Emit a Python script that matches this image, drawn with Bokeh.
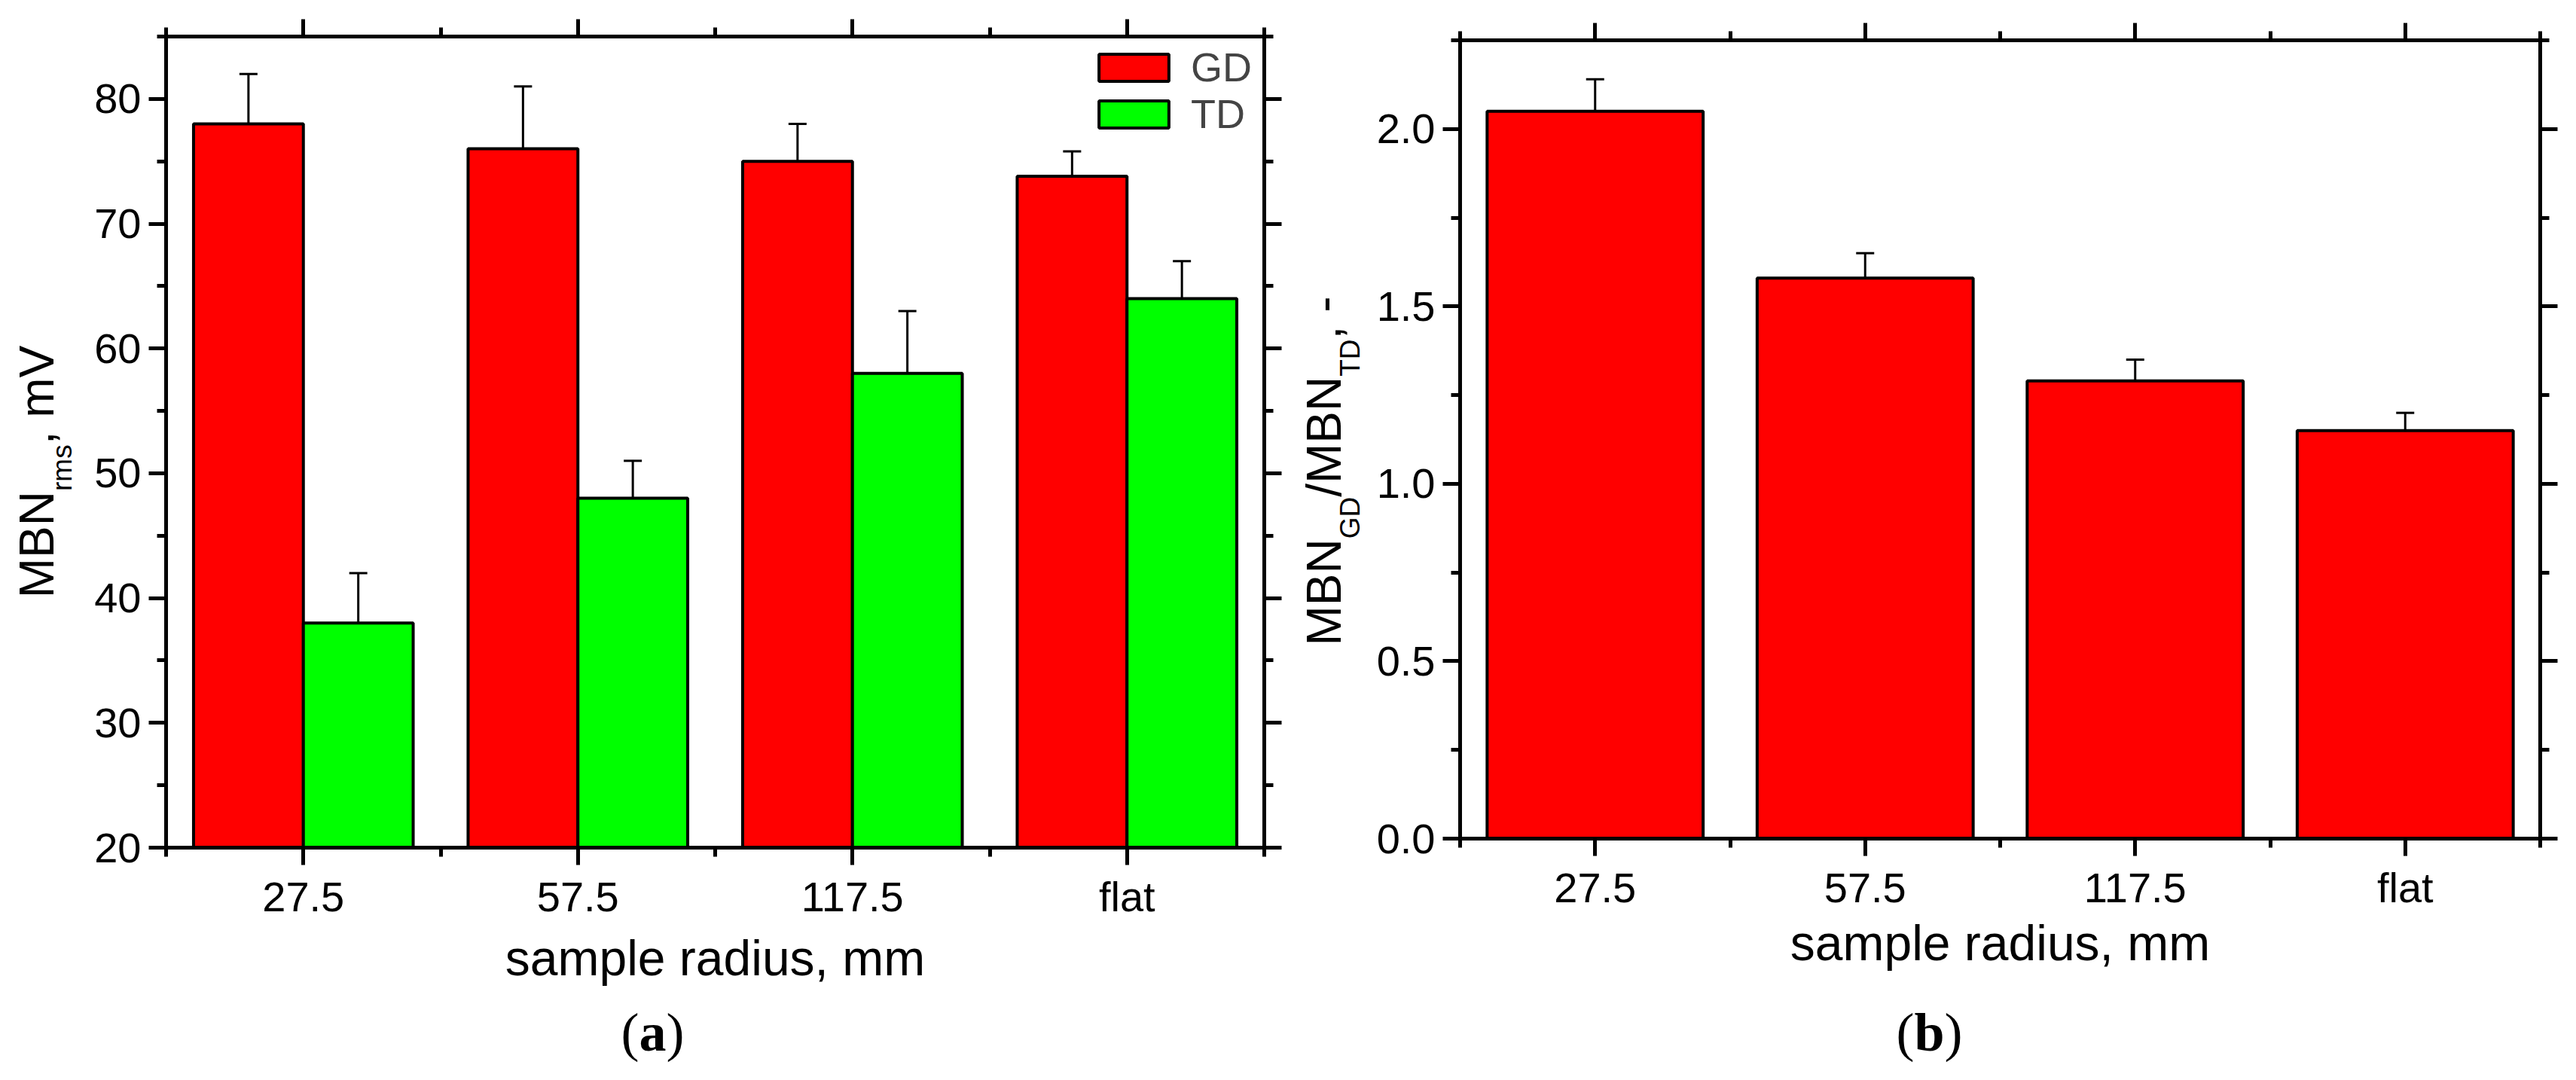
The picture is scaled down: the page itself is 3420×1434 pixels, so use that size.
import math
from bokeh.plotting import figure
from bokeh.models import (Range1d, LinearAxis, FixedTicker, Label, Whisker, TeeHead,
                          ColumnDataSource, NumeralTickFormatter, BasicTickFormatter)
from bokeh.layouts import row
from bokeh.embed import file_html
from bokeh.resources import INLINE

# ---------------- data ----------------
categories = ["27.5", "57.5", "117.5", "flat"]
gd_values = [78.0, 76.0, 75.0, 73.8]
gd_err = [4.0, 5.0, 3.0, 2.0]
td_values = [38.0, 48.0, 58.0, 64.0]
td_err = [4.0, 3.0, 5.0, 3.0]
ratio_values = [2.05, 1.58, 1.29, 1.15]
ratio_err = [0.09, 0.07, 0.06, 0.05]
series_names = ["GD", "TD"]
yticks_a = [20, 30, 40, 50, 60, 70, 80]
yminor_a = [25, 35, 45, 55, 65, 75, 85]
yticks_b = [0.0, 0.5, 1.0, 1.5, 2.0]
yminor_b = [0.25, 0.75, 1.25, 1.75, 2.25]

# ---------------- style ----------------
FONT = "Liberation Sans"
SERIF = "Liberation Serif"
RED = "#FF0000"
GREEN = "#00FF00"
H = 1434
BASE_SHIFT = 0.38   # empirical correction of the label baseline (em)

xpos = list(range(1, len(categories) + 1))
xminor = [p - 0.5 for p in xpos] + [xpos[-1] + 0.5]
overrides = {p: c for p, c in zip(xpos, categories)}

# approximate Arial advance widths (em) for placing rotated label pieces
ADV = {"M": .833, "B": .667, "N": .722, "r": .333, "m": .833, "s": .5, ",": .278,
       " ": .278, "V": .667, "G": .778, "D": .722, "T": .611, "/": .278, "-": .333}


def tw(text, size):
    return sum(ADV.get(c, 0.55) for c in text) * size


class Panel:
    """Figure whose frame fills the whole canvas; axes are pinned with fixed_location."""

    def __init__(self, width, box, xr, yr):
        left, right, top, bottom = box
        self.kx = (right - left) / (xr[1] - xr[0])
        self.ky = (bottom - top) / (yr[1] - yr[0])
        self.x0 = xr[0] - left / self.kx
        x1 = xr[1] + (width - right) / self.kx
        self.ytop = yr[1] + top / self.ky
        y0 = yr[0] - (H - bottom) / self.ky
        self.xr, self.yr = xr, yr
        p = figure(width=width, height=H, x_range=Range1d(self.x0, x1),
                   y_range=Range1d(y0, self.ytop), x_axis_type=None, y_axis_type=None,
                   output_backend="svg", toolbar_location=None, title=None,
                   min_border=0, min_border_left=0, min_border_right=0,
                   min_border_top=0, min_border_bottom=0)
        p.xgrid.visible = False
        p.ygrid.visible = False
        p.outline_line_color = None
        p.background_fill_color = "white"
        p.border_fill_color = "white"
        self.p = p

    def dx(self, px):
        return self.x0 + px / self.kx

    def dy(self, py):
        return self.ytop - py / self.ky

    def axes(self, yticks, yminor, yfmt):
        xr, yr = self.xr, self.yr
        specs = [
            ("below", yr[0], xr, FixedTicker(ticks=xpos, minor_ticks=xminor), True),
            ("above", yr[1], xr, FixedTicker(ticks=xpos, minor_ticks=xminor), False),
            ("left", xr[0], yr, FixedTicker(ticks=yticks, minor_ticks=yminor), True),
            ("right", xr[1], yr, FixedTicker(ticks=yticks, minor_ticks=yminor), False),
        ]
        for side, loc, bnds, ticker, labels in specs:
            ax = LinearAxis(ticker=ticker, fixed_location=loc, bounds=bnds)
            ax.axis_line_width = 5
            ax.axis_line_color = "black"
            ax.major_tick_line_width = 5
            ax.minor_tick_line_width = 5
            ax.major_tick_out = 23
            ax.major_tick_in = 0
            ax.minor_tick_out = 12
            ax.minor_tick_in = 0
            if labels:
                ax.major_label_text_font = FONT
                ax.major_label_text_font_size = "56px"
                ax.major_label_text_color = "black"
                ax.major_label_standoff = 10
                if side == "below":
                    ax.major_label_overrides = overrides
                else:
                    ax.formatter = yfmt
            else:
                ax.major_label_text_font_size = "0px"
                ax.major_label_text_color = None
                ax.major_label_standoff = 0
            self.p.add_layout(ax, side)

    def text(self, px, py, text, size, font=FONT, angle=0.0, align="left", style="normal"):
        if angle:
            px -= BASE_SHIFT * size
        else:
            py -= BASE_SHIFT * size
        self.p.add_layout(Label(x=self.dx(px), y=self.dy(py), text=text, angle=angle,
                                text_font=font, text_font_size=f"{size}px",
                                text_align=align, text_baseline="alphabetic",
                                text_font_style=style, text_color="black"))

    def ylabel(self, pieces, base_px, sub_px, center_py, big, small):
        total = sum(tw(t, small if sub else big) for t, sub in pieces)
        py = center_py + total / 2
        for t, sub in pieces:
            size = small if sub else big
            self.text(sub_px if sub else base_px, py, t, size, angle=math.pi / 2)
            py -= tw(t, size)

    def errors(self, xs, vals, errs):
        src = ColumnDataSource(dict(x=xs, lower=vals,
                                    upper=[v + e for v, e in zip(vals, errs)]))
        self.p.add_layout(Whisker(base="x", lower="lower", upper="upper", source=src,
                                  line_width=3, line_color="black",
                                  upper_head=TeeHead(size=24, line_width=3, line_color="black"),
                                  lower_head=None))


# ---------------- panel (a) ----------------
A = Panel(1710, (220, 1678, 48, 1125), (0.5, 4.5), (20, 85))
fa = A.p
x_gd = [p - 0.2 for p in xpos]
x_td = [p + 0.2 for p in xpos]
fa.vbar(x=x_gd, top=gd_values, bottom=20, width=0.4, fill_color=RED, line_color="black",
        line_width=4, legend_label=series_names[0])
fa.vbar(x=x_td, top=td_values, bottom=20, width=0.4, fill_color=GREEN, line_color="black",
        line_width=4, legend_label=series_names[1])
A.errors(x_gd, gd_values, gd_err)
A.errors(x_td, td_values, td_err)
A.axes(yticks_a, yminor_a, BasicTickFormatter())

leg = fa.legend[0]
leg.location = (1447, H - 182)
leg.glyph_width = 116
leg.glyph_height = 45
leg.label_standoff = 18
leg.label_text_font = FONT
leg.label_text_font_size = "54px"
leg.spacing = 0
leg.padding = 5
leg.margin = 0
leg.border_line_color = None
leg.background_fill_alpha = 0

A.ylabel([("MBN", False), ("rms", True), (", mV", False)], 73, 96, 626, 64, 37)
A.text(949, 1297, "sample radius, mm", 66, align="center")
A.text(824, 1398, "(", 72, font=SERIF)
A.text(848, 1398, "a", 72, font=SERIF, style="bold")
A.text(884, 1398, ")", 72, font=SERIF)

# ---------------- panel (b) ----------------
B = Panel(1710, (228, 1662, 53, 1113), (0.5, 4.5), (0.0, 2.25))
fb = B.p
fb.vbar(x=xpos, top=ratio_values, bottom=0, width=0.8, fill_color=RED, line_color="black",
        line_width=4)
B.errors(xpos, ratio_values, ratio_err)
B.axes(yticks_b, yminor_b, NumeralTickFormatter(format="0.0"))

B.ylabel([("MBN", False), ("GD", True), ("/MBN", False), ("TD", True), (", -", False)],
         72, 96, 625, 64, 37)
B.text(945, 1277, "sample radius, mm", 66, align="center")
B.text(807, 1398, "(", 72, font=SERIF)
B.text(831, 1398, "b", 72, font=SERIF, style="bold")
B.text(871, 1398, ")", 72, font=SERIF)

layout = row(fa, fb)
open("out.html", "w").write(file_html(layout, INLINE))
